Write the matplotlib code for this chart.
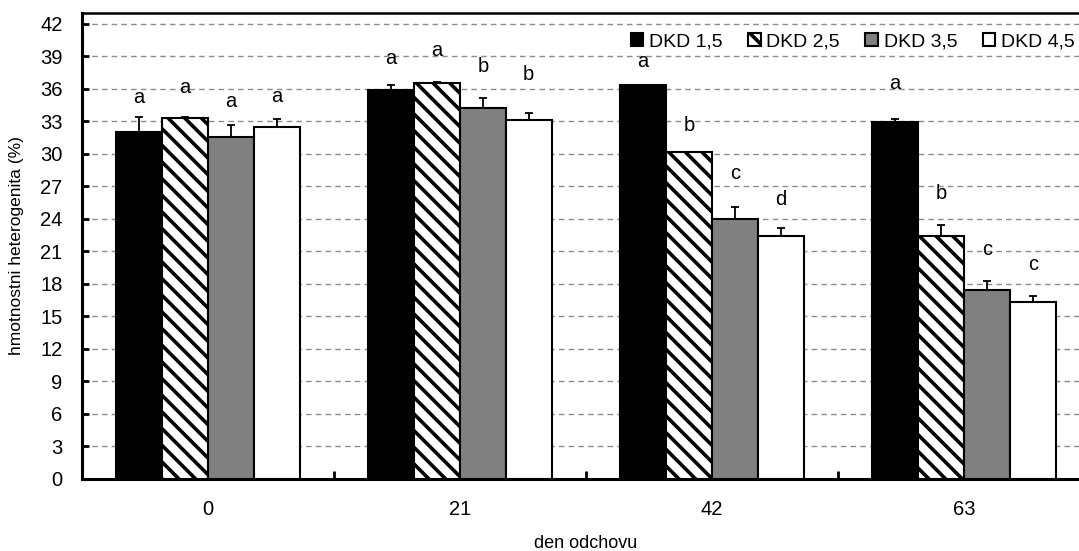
import numpy as np
import matplotlib
matplotlib.use('Agg')
import matplotlib.pyplot as plt

plt.rcParams['font.family'] = ['Liberation Sans', 'DejaVu Sans']
plt.rcParams['hatch.linewidth'] = 2.6

# data
categories = ['0', '21', '42', '63']
series = ['DKD 1,5', 'DKD 2,5', 'DKD 3,5', 'DKD 4,5']

dkd15 = [32.0, 35.9, 36.4, 32.9]
dkd25 = [33.3, 36.5, 30.2, 22.4]
dkd35 = [31.6, 34.2, 24.0, 17.4]
dkd45 = [32.5, 33.1, 22.4, 16.3]

err15 = [1.4, 0.5, 0.0, 0.3]
err25 = [0.1, 0.1, 0.0, 1.0]
err35 = [1.1, 1.0, 1.1, 0.9]
err45 = [0.7, 0.7, 0.8, 0.6]

let15 = ['a', 'a', 'a', 'a']
let25 = ['a', 'a', 'b', 'b']
let35 = ['a', 'b', 'c', 'c']
let45 = ['a', 'b', 'd', 'c']

# baseline heights of the letters
lety15 = [34.7, 38.3, 38.0, 36.0]
lety25 = [35.6, 39.0, 32.1, 25.8]
lety35 = [34.3, 37.6, 27.7, 20.7]
lety45 = [34.8, 36.8, 25.3, 19.3]

yticks = list(range(0, 43, 3))

means = [dkd15, dkd25, dkd35, dkd45]
errs = [err15, err25, err35, err45]
letters = [let15, let25, let35, let45]
letys = [lety15, lety25, lety35, lety45]
faces = ['black', 'white', '#808080', 'white']
hatches = [None, '\\\\', None, None]

W, H = 1079, 551
fig = plt.figure(figsize=(W / 100, H / 100), dpi=100)
ax = fig.add_axes([82 / W, 72 / H, 1008 / W, 466 / H])

x = np.arange(len(categories))
bw = 0.182

for i in range(4):
    pos = x + (i - 1.5) * bw
    ax.bar(pos, means[i], bw, color=faces[i], edgecolor='black',
           linewidth=1.5, hatch=hatches[i], label=series[i], zorder=3)
    ax.errorbar(pos, means[i], yerr=[np.zeros(4), errs[i]], fmt='none',
                ecolor='black', elinewidth=1.3, capsize=3, capthick=1.3,
                zorder=2)
    for p, t, yy in zip(pos, letters[i], letys[i]):
        ax.text(p, yy, t, ha='center', va='baseline', fontsize=14.5, zorder=4)

ax.set_xlim(-0.5, 3.5)
ax.set_ylim(0, 43)
ax.set_yticks(yticks)
ax.set_xticks(x)
ax.set_xticklabels(categories)
ax.set_xticks([0.5, 1.5, 2.5], minor=True)

ax.tick_params(axis='y', direction='in', length=5, width=2, labelsize=14.5, pad=14)
ax.tick_params(axis='x', which='major', length=0, labelsize=14.5, pad=15)
ax.tick_params(axis='x', which='minor', direction='in', length=6, width=2)

ax.grid(axis='y', color='#8c8c8c', linestyle=(0, (4, 3)), linewidth=1)
ax.set_axisbelow(True)

for s in ['left', 'bottom']:
    ax.spines[s].set_linewidth(2.2)
ax.spines['top'].set_linewidth(1.8)
ax.spines['right'].set_linewidth(1.8)

ax.set_ylabel('hmotnostni heterogenita (%)', fontsize=12.5)
ax.set_xlabel('den odchovu', fontsize=13, labelpad=12)
ax.yaxis.set_label_coords(-58 / 1008, 0.5)

leg = ax.legend(loc='center right', bbox_to_anchor=(1075 / W, 1 - 42 / H),
                bbox_transform=fig.transFigure, ncol=4, frameon=False,
                fontsize=14, handlelength=0.65, handleheight=0.65,
                handletextpad=0.3, columnspacing=1.3, borderpad=0,
                borderaxespad=0)

fig.savefig('out.png', dpi=100)
